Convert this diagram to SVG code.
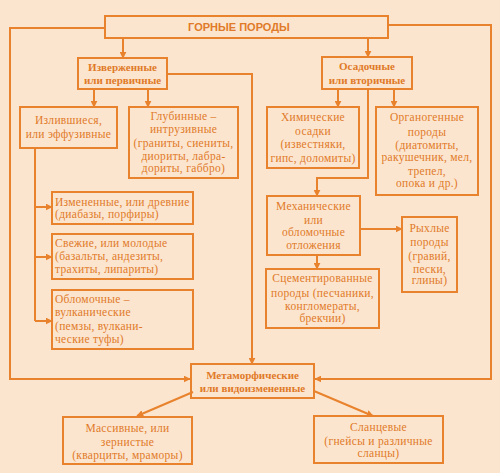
<svg xmlns="http://www.w3.org/2000/svg" width="500" height="473" viewBox="0 0 500 473">
<defs>
<marker id="ah" viewBox="0 0 10 10" refX="9" refY="5" markerWidth="7" markerHeight="7" markerUnits="userSpaceOnUse" orient="auto">
<path d="M0,0 L10,5 L0,10 z" fill="#E8822C"/>
</marker>
<style>
.box{fill:none;stroke:#E8822C;stroke-width:2}
.ln{fill:none;stroke:#E8822C;stroke-width:2}
.ar{fill:none;stroke:#E8822C;stroke-width:2;marker-end:url(#ah)}
text{font-family:"Liberation Serif","DejaVu Serif",serif;font-size:11.5px;letter-spacing:0.3px;fill:#E07A28}
.c{text-anchor:middle}
.b{font-weight:bold;font-size:11px;letter-spacing:0}
.t{font-family:"Liberation Sans","DejaVu Sans",sans-serif;font-weight:bold;font-size:11px;letter-spacing:0}
</style>
</defs>
<rect width="500" height="473" fill="#FCE5CF"/>
<g id="connectors">
<path class="ar" d="M105,28 H10 V379 H190"/>
<path class="ar" d="M388,25 H491 V379 H315"/>
<path class="ar" d="M123,38 V58"/>
<path class="ar" d="M368,38 V57"/>
<path class="ar" d="M167,74 H252 V364"/>
<path class="ar" d="M94,89 V107"/>
<path class="ar" d="M148,89 V107"/>
<path class="ln" d="M35,148 V321"/>
<path class="ar" d="M35,207 H52"/>
<path class="ar" d="M35,257 H52"/>
<path class="ar" d="M35,321 H52"/>
<path class="ar" d="M338,89 V107"/>
<path class="ar" d="M394,89 V107"/>
<path class="ar" d="M368,89 V178 H317 V196"/>
<path class="ar" d="M360,229 H402"/>
<path class="ar" d="M317,255 V269"/>
<path class="ar" d="M193,392 L137,416"/>
<path class="ar" d="M314,391 L373,416"/>
</g>
<g id="gornye">
<rect class="box" x="105" y="16" width="283" height="22"/>
<text class="t c" x="239" y="31">ГОРНЫЕ ПОРОДЫ</text>
</g>
<g id="izverzhennye">
<rect class="box" x="78" y="58" width="89" height="31"/>
<text class="c b" x="122.5" y="71">Изверженные</text>
<text class="c b" x="122.5" y="84">или первичные</text>
</g>
<g id="osadochnye">
<rect class="box" x="322" y="57" width="90" height="32"/>
<text class="c b" x="367" y="70">Осадочные</text>
<text class="c b" x="367" y="84">или вторичные</text>
</g>
<g id="izlivshiesya">
<rect class="box" x="20" y="107" width="97" height="41"/>
<text class="c" x="68.5" y="124">Излившиеся,</text>
<text class="c" x="68.5" y="138">или эффузивные</text>
</g>
<g id="glubinnye">
<rect class="box" x="129" y="107" width="109" height="71"/>
<text class="c" x="183.5" y="120">Глубинные –</text>
<text class="c" x="183.5" y="133">интрузивные</text>
<text class="c" x="183.5" y="147">(граниты, сиениты,</text>
<text class="c" x="183.5" y="160">диориты, лабра-</text>
<text class="c" x="183.5" y="172">дориты, габбро)</text>
</g>
<g id="izmenennye">
<rect class="box" x="52" y="192" width="141" height="32"/>
<text x="55" y="206">Измененные, или древние</text>
<text x="55" y="218">(диабазы, порфиры)</text>
</g>
<g id="svezhie">
<rect class="box" x="52" y="234" width="141" height="45"/>
<text x="55" y="247">Свежие, или молодые</text>
<text x="55" y="260">(базальты, андезиты,</text>
<text x="55" y="273">трахиты, липариты)</text>
</g>
<g id="oblomochnye-vulk">
<rect class="box" x="52" y="290" width="141" height="59"/>
<text x="55" y="303">Обломочные –</text>
<text x="55" y="316">вулканические</text>
<text x="55" y="330">(пемзы, вулкани-</text>
<text x="55" y="343">ческие туфы)</text>
</g>
<g id="khimicheskie">
<rect class="box" x="267" y="107" width="92" height="61"/>
<text class="c" x="313" y="121">Химические</text>
<text class="c" x="313" y="135">осадки</text>
<text class="c" x="313" y="148">(известняки,</text>
<text class="c" x="313" y="162">гипс, доломиты)</text>
</g>
<g id="organogennye">
<rect class="box" x="376" y="107" width="102" height="88"/>
<text class="c" x="427" y="121">Органогенные</text>
<text class="c" x="427" y="136">породы</text>
<text class="c" x="427" y="149">(диатомиты,</text>
<text class="c" x="427" y="161">ракушечник, мел,</text>
<text class="c" x="427" y="175">трепел,</text>
<text class="c" x="427" y="187">опока и др.)</text>
</g>
<g id="mekhanicheskie">
<rect class="box" x="267" y="196" width="93" height="59"/>
<text class="c" x="313.5" y="210">Механические</text>
<text class="c" x="313.5" y="224">или</text>
<text class="c" x="313.5" y="236">обломочные</text>
<text class="c" x="313.5" y="249">отложения</text>
</g>
<g id="rykhlye">
<rect class="box" x="402" y="217" width="55" height="75"/>
<text class="c" x="429.5" y="232">Рыхлые</text>
<text class="c" x="429.5" y="246">породы</text>
<text class="c" x="429.5" y="260">(гравий,</text>
<text class="c" x="429.5" y="273">пески,</text>
<text class="c" x="429.5" y="284">глины)</text>
</g>
<g id="scementirovannye">
<rect class="box" x="266" y="269" width="113" height="59"/>
<text class="c" x="322.5" y="282">Сцементированные</text>
<text class="c" x="322.5" y="297">породы (песчаники,</text>
<text class="c" x="322.5" y="310">конгломераты,</text>
<text class="c" x="322.5" y="322">брекчии)</text>
</g>
<g id="metamorficheskie">
<rect class="box" x="191" y="364" width="123" height="34"/>
<text class="c b" x="252.5" y="379">Метаморфические</text>
<text class="c b" x="252.5" y="392">или видоизмененные</text>
</g>
<g id="massivnye">
<rect class="box" x="63" y="417" width="129" height="47"/>
<text class="c" x="127.5" y="432">Массивные, или</text>
<text class="c" x="127.5" y="446">зернистые</text>
<text class="c" x="127.5" y="459">(кварциты, мраморы)</text>
</g>
<g id="slancevye">
<rect class="box" x="314" y="416" width="129" height="47"/>
<text class="c" x="378.5" y="431">Сланцевые</text>
<text class="c" x="378.5" y="445">(гнейсы и различные</text>
<text class="c" x="378.5" y="457">сланцы)</text>
</g>
</svg>
